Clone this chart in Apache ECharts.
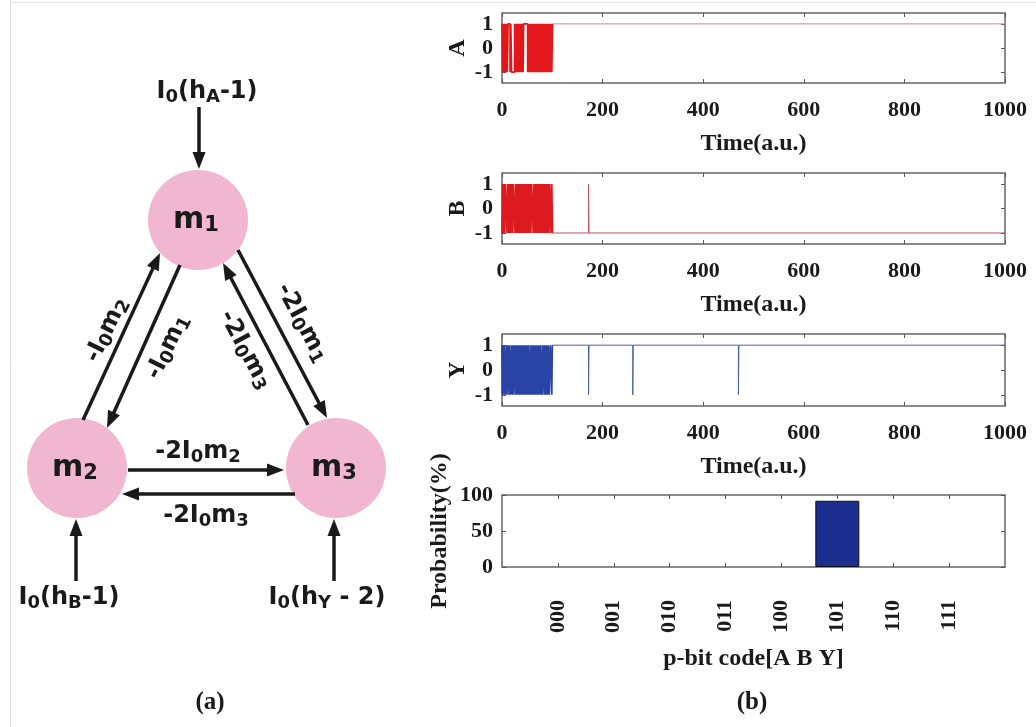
<!DOCTYPE html>
<html>
<head>
<meta charset="utf-8">
<script src="https://cdn.jsdelivr.net/npm/echarts@6/dist/echarts.min.js"></script>
<style>
html, body { margin: 0; padding: 0; background: #fff; }
#main { width: 1036px; height: 727px; }
</style>
</head>
<body>
<div id="main"></div>
<script>
// p-bit traces: start state and the times (a.u.) where the bit flips
const aStart = 1;
const aFlips = [1, 2.5, 4, 6, 7, 9, 10.5, 12, 16, 17.5, 19, 25, 26, 28, 29.5, 31, 33, 34, 36, 37.5,
  39, 40, 42, 43, 51, 52.5, 54, 55, 57, 58.5, 60, 61, 63, 64.5, 66, 67, 69, 70.5, 72, 73, 75, 76.5,
  78, 79, 81, 82.5, 84, 85, 87, 88.5, 90, 91, 93, 94.5, 96, 97, 99, 100.5];
const bStart = -1;
const bFlips = [1, 2.5, 4, 5.5, 7, 10, 11.5, 13, 14.5, 16, 17, 18.5, 20, 21.5, 23, 26, 27.5, 29, 30.5,
  32, 33.5, 35, 36, 37.5, 39, 40.5, 42, 43.5, 45, 46, 47.5, 49, 50.5, 52, 53.5, 55, 56, 57.5, 59, 62,
  63.5, 65, 66.5, 68, 69, 70.5, 72, 73.5, 75, 76.5, 78, 79, 80.5, 82, 83.5, 85, 86, 87.5, 89, 90.5,
  92, 93.5, 95, 97.5, 99, 100.5, 172, 173];
const yStart = 1;
const yFlips = [0.5, 2, 4, 5, 7, 9, 10, 12, 14, 15, 17, 19, 20.5, 22, 23, 25, 27, 28, 30, 31.5, 33, 34,
  36, 37, 38.5, 40, 41, 42.5, 44, 45, 46.5, 48, 49, 50.5, 52, 53, 55, 57, 58, 60, 61.5, 63, 64, 65.5,
  67, 68, 69.5, 71, 72, 73.5, 75, 76, 78, 80, 81, 83, 85, 86, 88, 89.5, 91, 92, 94, 96, 99, 100,
  172, 173, 260, 261, 470, 471];
const timeEnd = 1000;
const burstEnd = 101; // end of the annealing burst
const stateTicks = [-1, 0, 1];

// histogram of output codes
const codes = ["000", "001", "010", "011", "100", "101", "110", "111"];
const probability = [0, 0, 0, 0, 0, 92, 0, 0];

const serif = "Liberation Serif";
const sans = "DejaVu Sans";
const ink = "#1a1a1a";

function steps(start, flips) {
  let v = start;
  const pts = [[0, v]];
  flips.forEach((t) => {
    v = -v;
    pts.push([t, v]);
  });
  pts.push([timeEnd, v]);
  return pts;
}

const boxes = [
  { top: 13, height: 70 },
  { top: 173, height: 71 },
  { top: 334, height: 72 },
  { top: 495, height: 72 },
];

const labelFont = { fontFamily: serif, fontWeight: "bold", fontSize: 22, color: ink };
const nameFont = { fontFamily: serif, fontWeight: "bold", fontSize: 24, color: ink };
const tick = { inside: true, length: 4, lineStyle: { color: "#555", width: 1 } };
const noLine = { show: false, onZero: false };

const traces = [
  { name: "A", data: steps(aStart, aFlips), color: "#e3161c", tail: "#d9848c" },
  { name: "B", data: steps(bStart, bFlips), color: "#dd1a1f", tail: "#b8555c" },
  { name: "Y", data: steps(yStart, yFlips), color: "#2a43a6", tail: "#4a5f9e" },
];

const xAxes = [];
const yAxes = [];
const series = [];

traces.forEach((tr, i) => {
  xAxes.push({
    gridIndex: i, type: "value", min: 0, max: timeEnd, interval: 200,
    axisLine: noLine, splitLine: { show: false }, axisTick: tick,
    axisLabel: { ...labelFont, margin: 16, formatter: (v) => String(v) },
    name: "Time(a.u.)", nameLocation: "middle", nameGap: 49, nameTextStyle: nameFont,
  });
  xAxes.push({
    gridIndex: i, type: "value", position: "top", min: 0, max: timeEnd, interval: 200,
    axisLine: noLine, splitLine: { show: false }, axisTick: tick,
    axisLabel: { show: false },
  });
  yAxes.push({
    gridIndex: i, type: "value", min: -1.45, max: 1.45,
    axisLine: noLine, splitLine: { show: false },
    axisTick: { ...tick, customValues: stateTicks },
    axisLabel: { ...labelFont, margin: 9, customValues: stateTicks },
    name: tr.name, nameLocation: "middle", nameRotate: 90, nameGap: 32, nameTextStyle: nameFont,
  });
  yAxes.push({
    gridIndex: i, type: "value", position: "right", min: -1.45, max: 1.45,
    axisLine: noLine, splitLine: { show: false },
    axisTick: { ...tick, customValues: stateTicks },
    axisLabel: { show: false },
  });
  // dense burst drawn thicker, the settled tail thin
  const cut = tr.data.findIndex((p) => p[0] > burstEnd);
  series.push({
    type: "line", xAxisIndex: 2 * i, yAxisIndex: 2 * i, data: tr.data.slice(0, cut), step: "end",
    symbol: "none", silent: true, z: 3,
    lineStyle: { color: tr.color, width: 1.7 },
  });
  series.push({
    type: "line", xAxisIndex: 2 * i, yAxisIndex: 2 * i, data: tr.data.slice(cut - 1), step: "end",
    symbol: "none", silent: true, z: 2,
    lineStyle: { color: tr.tail, width: 1 },
  });
});

// probability panel
const codePos = codes.map((c, i) => i + 1);
xAxes.push({
  gridIndex: 3, type: "value", min: 0, max: codes.length + 1,
  axisLine: noLine, splitLine: { show: false },
  axisTick: { ...tick, customValues: codePos },
  axisLabel: {
    ...labelFont, rotate: 90, margin: 33, customValues: codePos,
    formatter: (v) => codes[v - 1],
  },
  name: "p-bit code[A B Y]", nameLocation: "middle", nameGap: 80, nameTextStyle: nameFont,
});
xAxes.push({
  gridIndex: 3, type: "value", position: "top", min: 0, max: codes.length + 1,
  axisLine: noLine, splitLine: { show: false },
  axisTick: { ...tick, customValues: codePos }, axisLabel: { show: false },
});
yAxes.push({
  gridIndex: 3, type: "value", min: 0, max: 100, interval: 50,
  axisLine: noLine, splitLine: { show: false }, axisTick: tick,
  axisLabel: { ...labelFont, margin: 9 },
  name: "Probability(%)", nameLocation: "middle", nameRotate: 90, nameGap: 50, nameTextStyle: nameFont,
});
yAxes.push({
  gridIndex: 3, type: "value", position: "right", min: 0, max: 100, interval: 50,
  axisLine: noLine, splitLine: { show: false }, axisTick: tick,
  axisLabel: { show: false },
});
series.push({
  type: "bar", xAxisIndex: 6, yAxisIndex: 6, barWidth: 44, silent: true,
  data: probability.map((p, i) => ({
    value: [codePos[i], p],
    itemStyle: p > 0 ? {} : { borderWidth: 0, opacity: 0 },
  })),
  itemStyle: { color: "#1b2e8e", borderColor: "#111", borderWidth: 1 },
});

// ---- diagram (a) ----
function rich(text, big, small, drop) {
  return {
    text: text,
    align: "center",
    verticalAlign: "middle",
    rich: {
      b: { fontFamily: sans, fontWeight: "bold", fontSize: big, fill: ink },
      s: { fontFamily: sans, fontWeight: "bold", fontSize: small, fill: ink, padding: [drop, 0, 0, 0] },
    },
  };
}

function arrow(x1, y1, x2, y2) {
  const len = Math.hypot(x2 - x1, y2 - y1);
  const ux = (x2 - x1) / len, uy = (y2 - y1) / len;
  const hl = 17, hw = 6.5;
  const bx = x2 - ux * hl, by = y2 - uy * hl;
  return [
    { type: "line", shape: { x1, y1, x2: bx + ux * 2, y2: by + uy * 2 }, style: { stroke: ink, lineWidth: 3.5 } },
    {
      type: "polygon",
      shape: { points: [[x2, y2], [bx - uy * hw, by + ux * hw], [bx + uy * hw, by - ux * hw]] },
      style: { fill: ink },
    },
  ];
}

const deg = Math.PI / 180;
const nodes = [
  { id: "1", cx: 198, cy: 220 },
  { id: "2", cx: 77, cy: 468 },
  { id: "3", cx: 336, cy: 468 },
];
const links = [
  { p: [83, 420, 160, 253], t: "{b|-I}{s|0}{b|m}{s|2}", at: [107, 330], rot: 64 },
  { p: [180, 265, 107, 428], t: "{b|-I}{s|0}{b|m}{s|1}", at: [168, 347], rot: 64 },
  { p: [238, 250, 327, 418], t: "{b|-2I}{s|0}{b|m}{s|1}", at: [302, 323], rot: -62 },
  { p: [308, 425, 223, 263], t: "{b|-2I}{s|0}{b|m}{s|3}", at: [245, 350], rot: -62 },
  { p: [128, 470, 284, 470], t: "{b|-2I}{s|0}{b|m}{s|2}", at: [198, 452], rot: 0 },
  { p: [295, 494, 122, 494], t: "{b|-2I}{s|0}{b|m}{s|3}", at: [206, 516], rot: 0 },
  { p: [199, 107, 199, 169], t: "{b|I}{s|0}{b|(h}{s|A}{b|-1)}", at: [207, 92], rot: 0 },
  { p: [76, 581, 76, 519], t: "{b|I}{s|0}{b|(h}{s|B}{b|-1)}", at: [69, 598], rot: 0 },
  { p: [334, 581, 334, 519], t: "{b|I}{s|0}{b|(h}{s|Y}{b| - 2)}", at: [327, 598], rot: 0 },
];

const elements = [
  { type: "line", shape: { x1: 10.5, y1: 0, x2: 10.5, y2: 727 }, style: { stroke: "#e2e2e2", lineWidth: 1 } },
  { type: "line", shape: { x1: 10, y1: 2.5, x2: 1036, y2: 2.5 }, style: { stroke: "#e2e2e2", lineWidth: 1 } },
];
nodes.forEach((n) => {
  elements.push({ type: "circle", shape: { cx: n.cx, cy: n.cy, r: 50 }, style: { fill: "#f1b7d1" } });
});
links.forEach((l) => {
  elements.push(...arrow(...l.p));
  elements.push({ type: "text", x: l.at[0], y: l.at[1], rotation: l.rot * deg, style: rich(l.t, 24, 18, 10) });
});
nodes.forEach((n) => {
  elements.push({ type: "text", x: n.cx - 2, y: n.cy, style: rich("{b|m}{s|" + n.id + "}", 30, 21, 12) });
});
elements.push({
  type: "text", x: 210, y: 703,
  style: { text: "(a)", align: "center", verticalAlign: "middle", fontFamily: serif, fontWeight: "bold", fontSize: 25, fill: ink },
});
elements.push({
  type: "text", x: 752, y: 703,
  style: { text: "(b)", align: "center", verticalAlign: "middle", fontFamily: serif, fontWeight: "bold", fontSize: 25, fill: ink },
});

const chart = echarts.init(document.getElementById("main"));
chart.setOption({
  animation: false,
  grid: boxes.map((b) => ({
    left: 502, width: 503, top: b.top, height: b.height,
    show: true, borderColor: "#666", borderWidth: 1.5, backgroundColor: "transparent",
  })),
  xAxis: xAxes,
  yAxis: yAxes,
  series: series,
  graphic: { elements: elements },
});
</script>
</body>
</html>
